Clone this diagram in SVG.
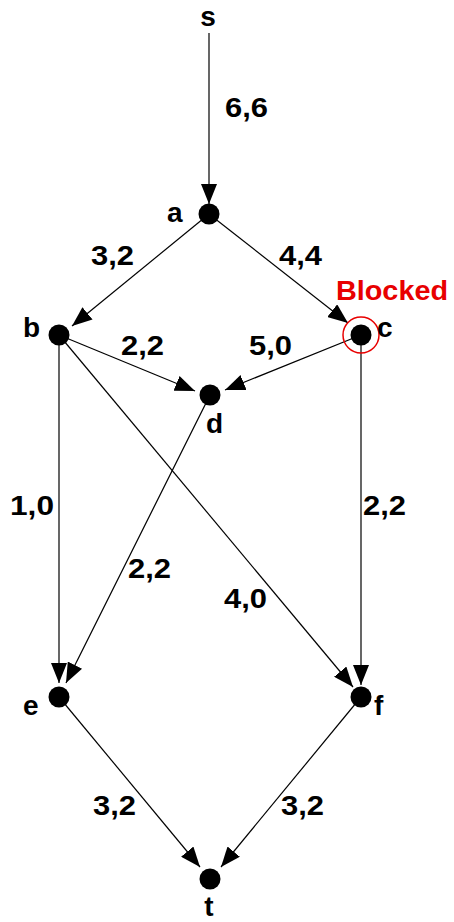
<svg xmlns="http://www.w3.org/2000/svg" width="454" height="922" viewBox="0 0 454 922">
<style>
.edge{stroke:#000;stroke-width:1.2;fill:none;marker-end:url(#arr)}
.node{fill:#000}
.lbl{font-family:"Liberation Sans",Arial,sans-serif;font-weight:bold;font-size:28px;fill:#000}
.mid{text-anchor:middle}
.red{font-family:"Liberation Sans",Arial,sans-serif;font-weight:bold;font-size:28px;fill:#e80000}
</style>
<defs>
<marker id="arr" markerUnits="userSpaceOnUse" markerWidth="20" markerHeight="16" refX="20" refY="8" orient="auto">
<path d="M0,0 L20,8 L0,16 z" fill="#000"/>
</marker>
</defs>
<rect width="454" height="922" fill="#fff"/>
<g id="connectors">
<line class="edge" x1="209" y1="33" x2="209" y2="204"/>
<line class="edge" x1="209" y1="214" x2="72" y2="326"/>
<line class="edge" x1="209" y1="214" x2="348" y2="323"/>
<line class="edge" x1="59" y1="335" x2="195" y2="391"/>
<line class="edge" x1="361" y1="335" x2="225" y2="390"/>
<line class="edge" x1="59" y1="335" x2="59" y2="683"/>
<line class="edge" x1="210" y1="395" x2="66" y2="683"/>
<line class="edge" x1="59" y1="335" x2="353" y2="687"/>
<line class="edge" x1="361" y1="335" x2="361" y2="685"/>
<line class="edge" x1="59" y1="697" x2="200" y2="867"/>
<line class="edge" x1="361" y1="697" x2="221" y2="867"/>
</g>
<g id="edge-labels">
<text class="lbl" x="225" y="117" textLength="43" lengthAdjust="spacingAndGlyphs">6,6</text>
<text class="lbl" x="91" y="265" textLength="43" lengthAdjust="spacingAndGlyphs">3,2</text>
<text class="lbl" x="279" y="265" textLength="43" lengthAdjust="spacingAndGlyphs">4,4</text>
<text class="lbl" x="121" y="355" textLength="43" lengthAdjust="spacingAndGlyphs">2,2</text>
<text class="lbl" x="249" y="355" textLength="43" lengthAdjust="spacingAndGlyphs">5,0</text>
<text class="lbl" x="10" y="515" textLength="44" lengthAdjust="spacingAndGlyphs">1,0</text>
<text class="lbl" x="363" y="515" textLength="43" lengthAdjust="spacingAndGlyphs">2,2</text>
<text class="lbl" x="128" y="578" textLength="43" lengthAdjust="spacingAndGlyphs">2,2</text>
<text class="lbl" x="224" y="608" textLength="43" lengthAdjust="spacingAndGlyphs">4,0</text>
<text class="lbl" x="93" y="815" textLength="43" lengthAdjust="spacingAndGlyphs">3,2</text>
<text class="lbl" x="281" y="815" textLength="43" lengthAdjust="spacingAndGlyphs">3,2</text>
</g>
<g id="node-s"><text class="lbl mid" x="208" y="26">s</text></g>
<g id="node-a"><circle class="node" cx="209" cy="214" r="10.5"/><text class="lbl" x="167" y="222">a</text></g>
<g id="node-b"><circle class="node" cx="59" cy="335" r="10.5"/><text class="lbl" x="23" y="337">b</text></g>
<g id="node-c"><circle class="node" cx="361" cy="335" r="10.5"/><circle cx="361" cy="335" r="18" fill="none" stroke="#e80000" stroke-width="1.5"/><text class="lbl" x="377" y="337">c</text><text class="red" x="336" y="300" textLength="112" lengthAdjust="spacingAndGlyphs">Blocked</text></g>
<g id="node-d"><circle class="node" cx="210" cy="395" r="10.5"/><text class="lbl" x="206" y="433">d</text></g>
<g id="node-e"><circle class="node" cx="59" cy="697" r="10.5"/><text class="lbl" x="23" y="715">e</text></g>
<g id="node-f"><circle class="node" cx="361" cy="697" r="10.5"/><text class="lbl" x="374" y="715">f</text></g>
<g id="node-t"><circle class="node" cx="210" cy="879" r="10.5"/><text class="lbl mid" x="209" y="916">t</text></g>
</svg>
